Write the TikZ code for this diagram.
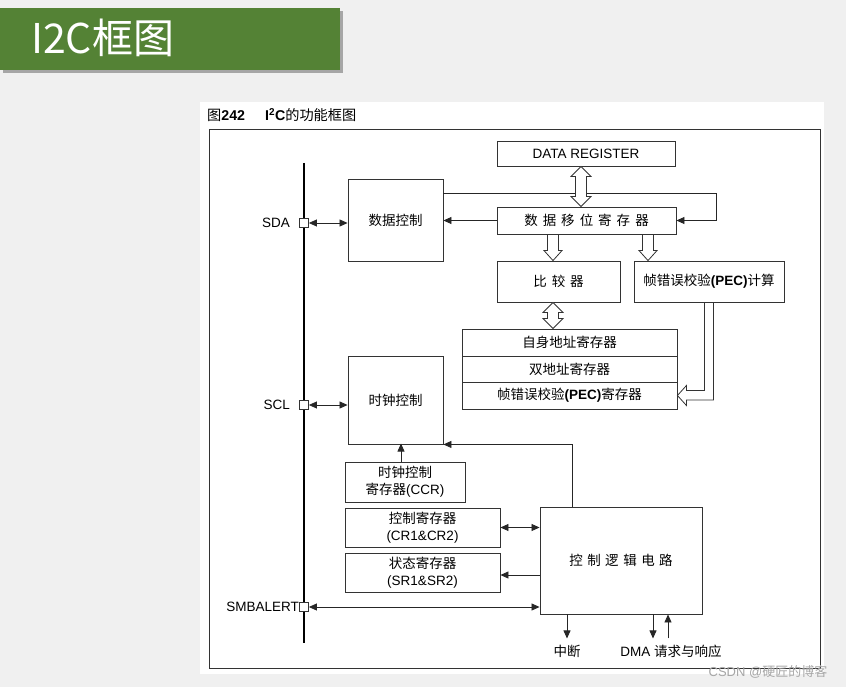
\documentclass[tikz,border=0pt]{standalone}
\usepackage{fontspec}
\setmainfont{Liberation Sans}
\newfontfamily\cjk{Noto Sans CJK SC}
\usetikzlibrary{arrows.meta,calc}
\definecolor{bannergreen}{RGB}{84,130,53}
\definecolor{pagegray}{RGB}{240,240,240}
\newcommand\BDbl[2]{\draw[blk] let \p1=(#1), \p2=(#2) in
  (\x1,\y1) -- (\x1+10pt,\y1-10pt) -- (\x1+5.5pt,\y1-10pt) -- (\x1+5.5pt,\y2+10pt) -- (\x1+10pt,\y2+10pt) -- (\x1,\y2)
  -- (\x1-10pt,\y2+10pt) -- (\x1-5.5pt,\y2+10pt) -- (\x1-5.5pt,\y1-10pt) -- (\x1-10pt,\y1-10pt) -- cycle;}
\newcommand\BDown[2]{\draw[blk] let \p1=(#1), \p2=(#2) in
  (\x1-5.5pt,\y1) -- (\x1+5.5pt,\y1) -- (\x1+5.5pt,\y2+10pt) -- (\x1+9pt,\y2+10pt) -- (\x1,\y2)
  -- (\x1-9pt,\y2+10pt) -- (\x1-5.5pt,\y2+10pt) -- cycle;}
\newcommand\sep{\hspace{5pt}}
\newcommand\sepb{\hspace{4.5pt}}
\begin{document}
\begin{tikzpicture}[x=1pt,y=-1pt,
  box/.style={draw=black!80, line width=0.9pt, fill=white, inner sep=0pt,
    font=\fontsize{13.5}{17}\selectfont, align=center},
  lbl/.style={inner sep=0pt, font=\fontsize{13.5}{15}\selectfont},
  pinsq/.style={draw=black!80, line width=0.8pt, fill=white, minimum size=9pt, inner sep=0pt},
  arr/.style={line width=0.8pt, draw=black!85, -{Triangle[length=8pt,width=7pt]}},
  darr/.style={line width=0.8pt, draw=black!85, {Triangle[length=8pt,width=7pt]}-{Triangle[length=8pt,width=7pt]}},
  blk/.style={draw=black!80, line width=0.8pt, fill=white}]
\useasboundingbox (0,0) rectangle (846,687);
\fill[pagegray] (0,0) rectangle (846,687);
% banner
\fill[black!35] (3,11) rectangle (343,73);
\fill[bannergreen] (0,8) rectangle (340,70);
\node[anchor=west, text=white, inner sep=0pt, font=\cjk\fontsize{41}{43}\selectfont] (title) at (31,38) {I2C框图};
% white sheet and frame
\fill[white] (200,102) rectangle (824,674);
\node[anchor=west, inner sep=0pt, font=\fontsize{14.2}{16}\selectfont] (cap) at (207,115)
  {{\cjk 图}\textbf{242}\hspace{20pt}\textbf{I\textsuperscript{2}C}{\cjk 的功能框图}};
\draw[black!80, line width=0.9pt] (209,129) rectangle (820,668);
% bus
\coordinate (busT) at (304,163);
\coordinate (busB) at (304,643);
\draw[line width=2.2pt] (busT) -- (busB);
\node[pinsq] (sda) at (304,223) {};
\node[pinsq] (scl) at (304,405) {};
\node[pinsq] (smb) at (304,607) {};
\node[lbl, anchor=east] (sdal) at (290,223) {SDA};
\node[lbl, anchor=east] (scll) at (290,405) {SCL};
\node[lbl, anchor=east] (smbl) at (299,607) {SMBALERT};
% boxes
\node[box, minimum width=95pt, minimum height=82pt] (dc) at (395.5,220) {\cjk 数据控制};
\node[box, minimum width=178pt, minimum height=25pt] (dr) at (586,153.5) {DATA REGISTER};
\node[box, minimum width=179pt, minimum height=27pt] (sr) at (586.5,220.5) {\cjk 数\sep 据\sep 移\sep 位\sep 寄\sep 存\sep 器};
\node[box, minimum width=123pt, minimum height=41pt] (cmp) at (558.5,281.5) {\cjk 比\sep 较\sep 器};
\node[box, minimum width=150pt, minimum height=41pt] (pec) at (709,281.5) {{\cjk 帧错误校验}\textbf{(PEC)}{\cjk 计算}};
\node[box, minimum width=215pt, minimum height=27pt] (a1) at (569.5,342.5) {\cjk 自身地址寄存器};
\node[box, minimum width=215pt, minimum height=26pt] (a2) at (569.5,369) {\cjk 双地址寄存器};
\node[box, minimum width=215pt, minimum height=27pt] (a3) at (569.5,395.5) {{\cjk 帧错误校验}\textbf{(PEC)}{\cjk 寄存器}};
\node[box, minimum width=95pt, minimum height=88pt] (cc) at (395.5,400) {\cjk 时钟控制};
\node[box, minimum width=120pt, minimum height=40pt] (ccr) at (405,482) {{\cjk 时钟控制}\\{\cjk 寄存器}(CCR)};
\node[box, minimum width=155pt, minimum height=39pt] (cr) at (422.5,527.5) {{\cjk 控制寄存器}\\(CR1\&CR2)};
\node[box, minimum width=155pt, minimum height=39pt] (srr) at (422.5,572.5) {{\cjk 状态寄存器}\\(SR1\&SR2)};
\node[box, minimum width=162pt, minimum height=107pt] (cl) at (621,560.5) {\cjk 控\sepb 制\sepb 逻\sepb 辑\sepb 电\sepb 路};
% line connectors
\coordinate (tr) at (716,193);
\draw[darr] (sda.east) -- (sda.east -| dc.west);
\draw[arr] (dc.east |- tr) -- (tr) |- (sr.east);
\draw[arr] (sr.west) -- (sr.west -| dc.east);
\draw[darr] (scl.east) -- (scl.east -| cc.west);
\draw[arr] ([xshift=-4pt]ccr.north) -- ++(0,-18);
\draw[arr] ([xshift=-49pt]cl.north) |- (cc.south east);
\draw[darr] (cr.east) -- (cr.east -| cl.west);
\draw[arr] ([yshift=-2.5pt]srr.east -| cl.west) -- ([yshift=-2.5pt]srr.east);
\draw[darr] (smb.east) -- (smb.east -| cl.west);
\draw[arr] ([xshift=-54pt]cl.south) -- ++(0,24);
\draw[arr] ([xshift=32pt]cl.south) -- ++(0,24);
\draw[arr] ([xshift=47pt,yshift=-24pt]cl.south) -- ([xshift=47pt]cl.south);
\node[lbl] (irq) at (567,651) {\cjk 中断};
\node[lbl] (dma) at (671,651) {DMA {\cjk 请求与响应}};
% block arrows
\BDbl{$(dr.south)+(-5,0)$}{sr.north}
\BDown{$(sr.south)+(-33.5,0)$}{cmp.north}
\BDown{$(sr.south)+(61.5,0)$}{pec.north}
\BDbl{$(cmp.south)+(-5.5,0)$}{a1.north}
\draw[blk, fill=none] let \p1=(pec.south), \p2=(a3.east) in
  (\x1-4.5pt,\y1) -- (\x1-4.5pt,\y2+5pt) -- (\x2+9pt,\y2+5pt) -- (\x2+9pt,\y2+10pt) -- (\x2,\y2)
  -- (\x2+9pt,\y2-10pt) -- (\x2+9pt,\y2-4.5pt) -- (\x1+4.5pt,\y2-4.5pt) -- (\x1+4.5pt,\y1);
% watermark
\node[inner sep=0pt, text=black!35, font=\fontsize{13}{15}\selectfont] (wm) at (768,672) {CSDN @{\cjk 硬匠的博客}};
\end{tikzpicture}
\end{document}
